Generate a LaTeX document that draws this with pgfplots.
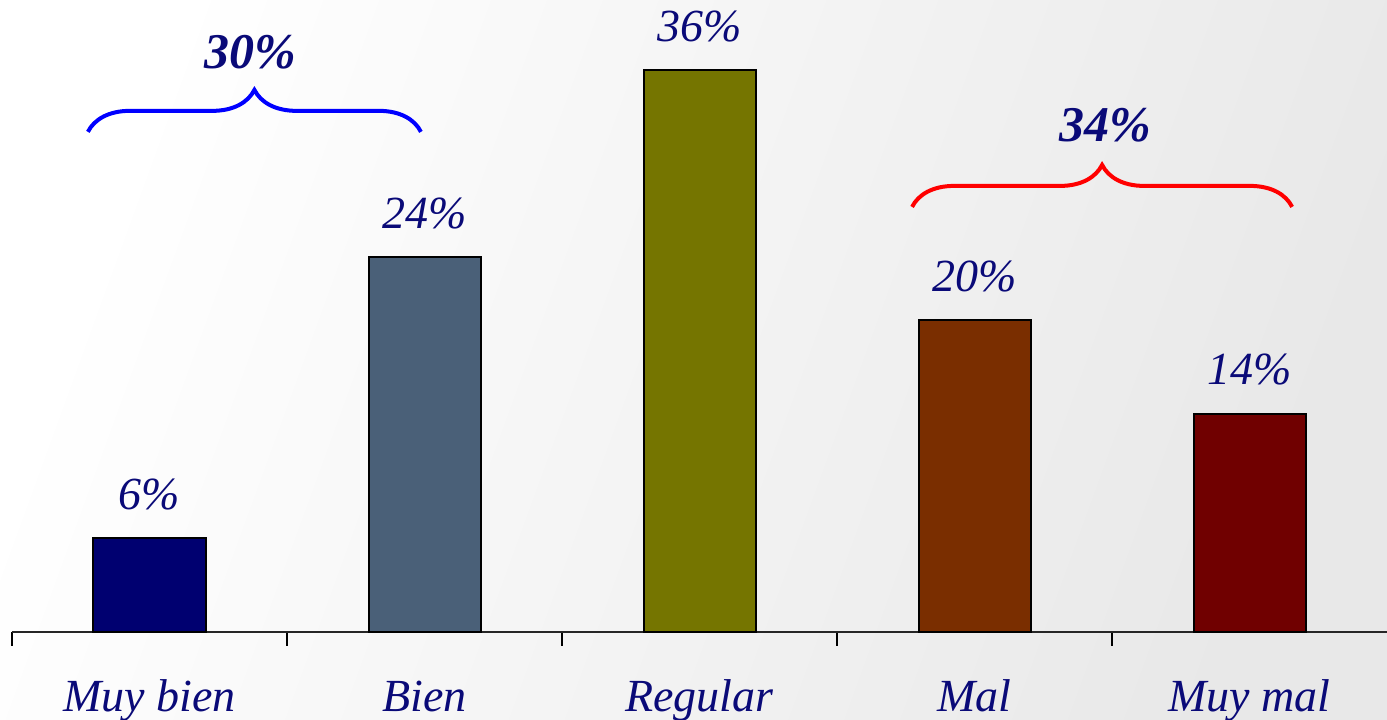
\documentclass[border=0pt]{standalone}
\usepackage{pgfplots}
\pgfplotsset{compat=1.18}
\usepackage{fontspec}
\setmainfont{Liberation Serif}
\usetikzlibrary{decorations.pathreplacing,backgrounds}
\definecolor{navytxt}{RGB}{10,10,120}
\definecolor{cMB}{RGB}{0,0,112}
\definecolor{cB}{RGB}{74,96,120}
\definecolor{cR}{RGB}{117,117,0}
\definecolor{cM}{RGB}{122,46,0}
\definecolor{cMM}{RGB}{112,0,0}
\begin{document}
\begin{tikzpicture}
\begin{axis}[
  scale only axis, width=687.5pt, height=316pt,
  xmin=-0.5, xmax=4.5, ymin=0, ymax=40.5,
  axis x line*=bottom, axis y line=none,
  xtick={0,1,2,3,4},
  xticklabels={Muy bien,Bien,Regular,Mal,Muy mal},
  minor xtick={-0.5,0.5,1.5,2.5,3.5},
  major tick length=0pt, minor tick length=7pt,
  tick align=outside,
  x axis line style={black!85, line width=0.8pt, -},
  every tick/.style={black, line width=0.8pt},
  xticklabel style={font=\fontsize{23}{23}\selectfont\itshape, text=navytxt,
    anchor=north, text height=16pt, text depth=5pt, yshift=-20pt},
  ybar, bar width=56pt, bar shift=0pt,
  every axis plot/.append style={draw=black, line width=1pt},
  /pgf/number format/assume math mode=true,
  nodes near coords={\pgfmathprintnumber{\pgfplotspointmeta}\%},
  every node near coord/.append style={font=\fontsize{23}{23}\selectfont\itshape,
    text=navytxt, anchor=south, text depth=0pt, yshift=10.5pt},
  clip=false,
]
\addplot[fill=cMB] coordinates {(0,6)};
\addplot[fill=cB] coordinates {(1,24)};
\addplot[fill=cR] coordinates {(2,36)};
\addplot[fill=cM] coordinates {(3,20)};
\addplot[fill=cMM] coordinates {(4,14)};
\draw[blue, line width=2pt, decorate, decoration={brace, amplitude=21pt}]
  (axis cs:-0.224,32.05) -- (axis cs:0.987,32.05);
\draw[red, line width=2pt, decorate, decoration={brace, amplitude=21pt}]
  (axis cs:2.773,27.24) -- (axis cs:4.155,27.24);
\node[font=\fontsize{25}{25}\selectfont\bfseries\itshape, text=navytxt]
  at (axis cs:0.365,37.18) {30\%};
\node[font=\fontsize{25}{25}\selectfont\bfseries\itshape, text=navytxt]
  at (axis cs:3.475,32.5) {34\%};
\coordinate (SW) at (rel axis cs:0,0);
\coordinate (NE) at (rel axis cs:1,1);
\end{axis}
\path (SW) ++(-6pt,-44pt) coordinate (BL);
\begin{scope}[on background layer]
\shade[left color=white, right color=black!9, shading angle=70] (BL) rectangle (NE);
\end{scope}
\pgfresetboundingbox
\path (BL) rectangle (NE);
\end{tikzpicture}
\end{document}
